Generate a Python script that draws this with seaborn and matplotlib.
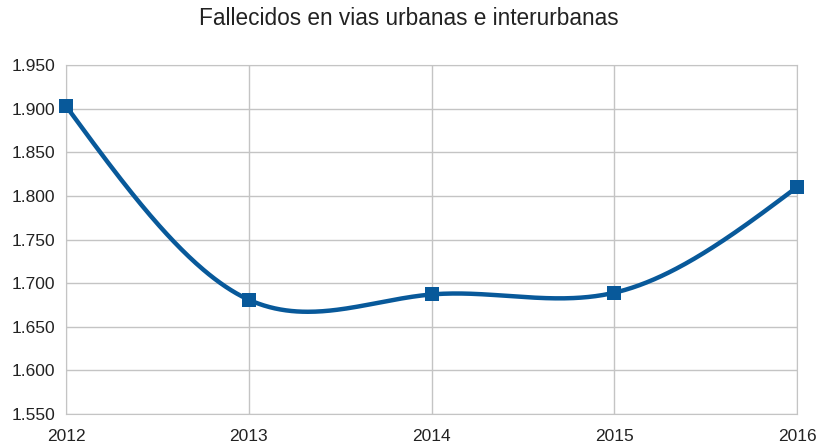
import numpy as np
import pandas as pd
import seaborn as sns
import matplotlib
matplotlib.use("Agg")
import matplotlib.pyplot as plt
from matplotlib.ticker import FuncFormatter

# data
years = [2012, 2013, 2014, 2015, 2016]
deaths = [1903, 1681, 1687, 1689, 1810]

title = "Fallecidos en vias urbanas e interurbanas"
line_color = "#08599a"


def natural_spline(x, y, n=400):
    # natural cubic spline, like the smoothed line of a spreadsheet chart
    x = np.asarray(x, float)
    y = np.asarray(y, float)
    k = len(x)
    h = np.diff(x)
    A = np.zeros((k, k))
    b = np.zeros(k)
    A[0, 0] = A[-1, -1] = 1
    for i in range(1, k - 1):
        A[i, i - 1] = h[i - 1]
        A[i, i] = 2 * (h[i - 1] + h[i])
        A[i, i + 1] = h[i]
        b[i] = 3 * ((y[i + 1] - y[i]) / h[i] - (y[i] - y[i - 1]) / h[i - 1])
    c = np.linalg.solve(A, b)
    xs = np.linspace(x[0], x[-1], n)
    idx = np.clip(np.searchsorted(x, xs) - 1, 0, k - 2)
    dx = xs - x[idx]
    bb = (y[idx + 1] - y[idx]) / h[idx] - h[idx] * (2 * c[idx] + c[idx + 1]) / 3
    dd = (c[idx + 1] - c[idx]) / (3 * h[idx])
    ys = y[idx] + bb * dx + c[idx] * dx ** 2 + dd * dx ** 3
    return xs, ys


sns.set_style("white")
plt.rcParams["font.family"] = ["Liberation Sans", "DejaVu Sans"]

df = pd.DataFrame({"year": years, "deaths": deaths})
xs, ys = natural_spline(years, deaths)
smooth = pd.DataFrame({"year": xs, "deaths": ys})

fig = plt.figure(figsize=(8.17, 4.45), dpi=100)
ax = fig.add_axes([66 / 817, 31 / 445, 731 / 817, 349 / 445])

sns.lineplot(data=smooth, x="year", y="deaths", color=line_color, linewidth=3.2, ax=ax)
sns.scatterplot(data=df, x="year", y="deaths", marker="s", s=115, color=line_color,
                edgecolor=line_color, linewidth=0, zorder=5, ax=ax, clip_on=False)

ax.set_xlim(2012, 2016)
ax.set_ylim(1550, 1950)
ax.set_xticks(years)
ax.set_yticks(np.arange(1550, 1951, 50))
ax.yaxis.set_major_formatter(FuncFormatter(lambda v, p: f"{int(v):,}".replace(",", ".")))
ax.grid(True, color="#c4c4c4", linewidth=1)
ax.set_axisbelow(True)
for s in ax.spines.values():
    s.set_color("#c4c4c4")
ax.tick_params(axis="both", length=7, color="#c4c4c4", labelsize=12.5, labelcolor="#222222", pad=1)
ax.tick_params(axis="x", pad=4)
ax.set_xlabel("")
ax.set_ylabel("")
fig.suptitle(title, y=0.985, fontsize=16.3, color="#222222")

fig.savefig("out.png", dpi=100)
